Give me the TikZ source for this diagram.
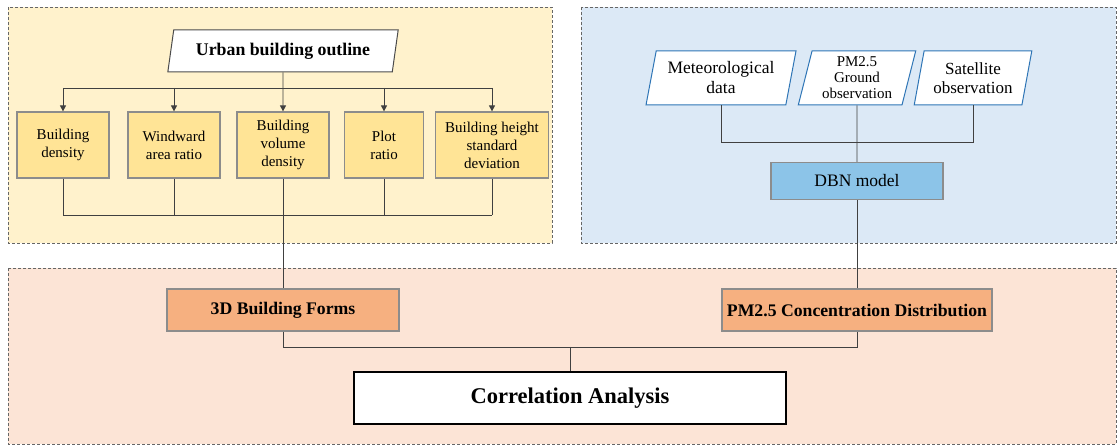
\documentclass[tikz,border=0pt]{standalone}
\usepackage{fontspec}
\setmainfont{Liberation Serif}
\usetikzlibrary{arrows.meta,shapes.geometric}

\definecolor{panelY}{RGB}{255,242,204}
\definecolor{panelB}{RGB}{220,233,246}
\definecolor{panelP}{RGB}{252,228,214}
\definecolor{boxY}{RGB}{255,228,150}
\definecolor{boxO}{RGB}{246,176,128}
\definecolor{boxB}{RGB}{140,196,232}
\definecolor{lineB}{RGB}{46,117,182}

\begin{document}
\begin{tikzpicture}[
  x=1pt,y=-1pt,
  line cap=butt,line join=miter,
  panel/.style={draw=black!60,densely dashed,line width=0.7pt},
  featbox/.style={draw=black!45,line width=1.2pt,fill=boxY,align=center,
    minimum height=66pt,inner sep=2pt,font=\fontsize{15}{18}\selectfont},
  resultbox/.style={draw=black!45,line width=1.2pt,fill=boxO,
    minimum height=42pt,font=\fontsize{17.7}{20}\selectfont\bfseries},
  datain/.style={trapezium,trapezium stretches=true,draw=lineB,line width=1pt,
    fill=white,align=center,minimum height=54pt,inner sep=1pt,
    trapezium left angle=76,trapezium right angle=104,
    font=\fontsize{17.5}{20}\selectfont},
  link/.style={black!75,line width=0.8pt},
  arrow/.style={link,-{Triangle[length=6pt,width=6pt]}}
]
  \useasboundingbox (0,0) rectangle (1117,446);

  % Bus heights.
  \def\topbus{88}
  \def\lowbus{215}
  \def\dbnbus{142}
  \def\endbus{347}

  % Background panels.
  \path[panel,fill=panelY] (8,7) rectangle (552,243);
  \path[panel,fill=panelB] (581,7) rectangle (1116,243);
  \path[panel,fill=panelP] (8,268) rectangle (1116,444);

  % Building form indicators.
  \node[trapezium,trapezium stretches=true,draw=black!70,line width=1pt,
        fill=white,minimum width=231pt,minimum height=42pt,
        trapezium left angle=78,trapezium right angle=102,
        font=\fontsize{17.8}{20}\selectfont\bfseries]
    (outline) at (283,51) {Urban building outline};

  \node[featbox,minimum width=92pt]  (bden) at (63,145)  {Building\\density};
  \node[featbox,minimum width=92pt]  (wind) at (174,145) {Windward\\area ratio};
  \node[featbox,minimum width=92pt]  (bvol) at (283,145) {Building\\volume\\density};
  \node[featbox,minimum width=79pt]  (plot) at (384,145) {Plot\\ratio};
  \node[featbox,minimum width=113pt] (bstd) at (492,145)
    {Building height\\standard\\deviation};

  \draw[arrow] (outline.south) -- (bvol.north);
  \draw[link] (bden.north |- 0,\topbus) -- (bstd.north |- 0,\topbus);
  \foreach \feat in {bden,wind,plot,bstd}
    \draw[arrow] (\feat.north |- 0,\topbus) -- (\feat.north);

  \draw[link] (bden.south |- 0,\lowbus) -- (bstd.south |- 0,\lowbus);
  \foreach \feat in {bden,wind,plot,bstd}
    \draw[link] (\feat.south) -- (\feat.south |- 0,\lowbus);

  % PM2.5 data sources.
  \node[datain,minimum width=150pt] (meteo) at (721,78) {Meteorological\\data};
  \node[datain,minimum width=118pt,font=\fontsize{15}{16}\selectfont]
    (ground) at (857,78) {PM2.5\\Ground\\observation};
  \node[datain,minimum width=118pt,font=\fontsize{17}{19}\selectfont]
    (sat) at (973,78) {Satellite\\observation};

  \node[draw=black!45,line width=1.2pt,fill=boxB,minimum width=172pt,
        minimum height=37pt,font=\fontsize{17.5}{20}\selectfont]
    (dbn) at (857,181) {DBN model};

  \draw[link] (ground.south) -- (dbn.north);
  \draw[link] (meteo.south) -- (meteo.south |- 0,\dbnbus)
    -- (sat.south |- 0,\dbnbus) -- (sat.south);

  % Correlation of the two results.
  \node[resultbox,minimum width=232pt] (forms) at (283,310) {3D Building Forms};
  \node[resultbox,minimum width=270pt] (conc) at (857,310)
    {PM2.5 Concentration Distribution};
  \node[draw=black,line width=2.6pt,fill=white,minimum width=432pt,
        minimum height=52pt,font=\fontsize{22.5}{26}\selectfont\bfseries]
    (corr) at (570,398) {Correlation Analysis};

  \draw[link] (bvol.south) -- (forms.north);
  \draw[link] (dbn.south) -- (conc.north);
  \draw[link] (forms.south) -- (forms.south |- 0,\endbus)
    -- (conc.south |- 0,\endbus) -- (conc.south);
  \draw[link] (corr.north |- 0,\endbus) -- (corr.north);
\end{tikzpicture}
\end{document}
